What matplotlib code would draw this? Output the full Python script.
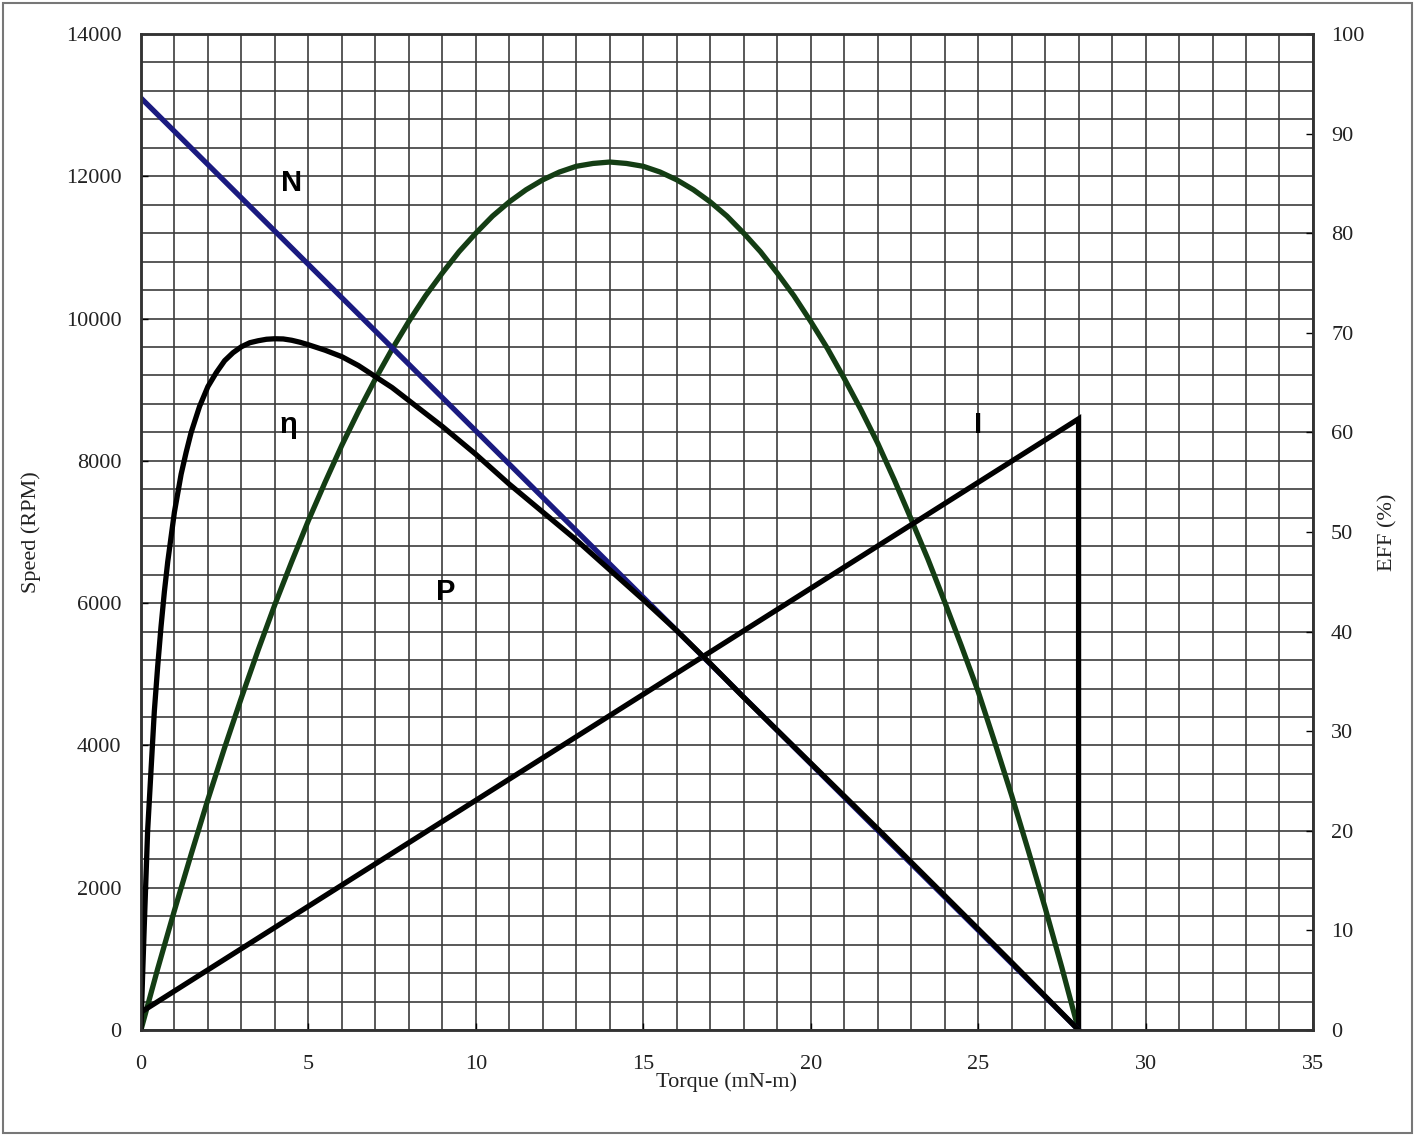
import matplotlib.pyplot as plt
from matplotlib.ticker import MultipleLocator
from matplotlib.patches import Rectangle

# speed line (RPM)
speed_torque = [0, 28]
speed_rpm = [13100, 0]

# output power curve, plotted on the speed scale (read every 0.5 mN-m)
power_torque = [i * 0.5 for i in range(57)]
power_vals = [0, 860, 1680, 2470, 3240, 3970, 4670, 5340, 5980, 6580, 7160, 7700,
              8220, 8700, 9150, 9570, 9960, 10320, 10640, 10940, 11200, 11440,
              11640, 11810, 11950, 12060, 12140, 12180, 12200, 12180, 12140, 12060,
              11950, 11810, 11640, 11440, 11200, 10940, 10640, 10320, 9960, 9580,
              9160, 8720, 8250, 7730, 7180, 6620, 6020, 5400, 4760, 4040,
              3300, 2520, 1720, 880, 0]

# current line, drops to zero at stall torque
current_torque = [0, 28, 28]
current_vals = [250, 8590, 0]

# efficiency (%)
eff_torque = [0, 0.05, 0.1, 0.15, 0.2, 0.3, 0.4, 0.5, 0.6, 0.7, 0.8, 0.9, 1.0, 1.2,
              1.35, 1.5, 1.75, 2, 2.25, 2.5, 2.75, 3, 3.25, 3.5, 3.75, 4, 4.25, 4.5,
              4.75, 5, 5.5, 6, 6.5, 7, 7.5, 8, 9, 10, 11, 12, 13, 14, 15, 16, 17, 18,
              20, 22, 24, 26, 28]
eff_pct = [0, 5.5, 10.5, 15.3, 20, 26, 32, 36.5, 40.5, 44, 47, 49.5, 52, 55.8,
           58, 60, 62.6, 64.6, 66.0, 67.2, 68.0, 68.6, 69.0, 69.2, 69.35, 69.4,
           69.38, 69.25, 69.05, 68.8, 68.25, 67.6, 66.7, 65.6, 64.5, 63.2, 60.6,
           57.8, 54.8, 52.0, 49.2, 46.2, 43.2, 40.1, 36.8, 33.4, 26.8, 20.2, 13.5,
           6.8, 0]

curve_labels = ['N', 'η', 'P', 'I']
label_torque = [4.5, 4.4, 9.1, 25.0]
label_rpm = [11900, 8500, 6150, 8500]

serif = 'Liberation Serif'
sans = 'Liberation Sans'

fig = plt.figure(figsize=(14.15, 11.36), dpi=100)
ax = fig.add_axes([0.0996, 0.0933, 0.8283, 0.8768])
ax2 = ax.twinx()

ax.set_xlim(0, 35)
ax.set_ylim(0, 14000)
ax2.set_ylim(0, 100)

ax.xaxis.set_major_locator(MultipleLocator(5))
ax.xaxis.set_minor_locator(MultipleLocator(1))
ax.yaxis.set_major_locator(MultipleLocator(2000))
ax.yaxis.set_minor_locator(MultipleLocator(400))
ax2.yaxis.set_major_locator(MultipleLocator(10))

ax.grid(which='both', color='#3c3c3c', linewidth=1.2)
ax.set_axisbelow(True)

ax.tick_params(which='major', direction='in', length=5, width=1, labelsize=16, pad=14)
ax.tick_params(axis='x', pad=18)
ax.tick_params(which='minor', length=0)
ax2.tick_params(direction='in', length=5, width=1, labelsize=16, pad=13)
for t in ax.get_xticklabels() + ax.get_yticklabels() + ax2.get_yticklabels():
    t.set_fontfamily(serif)
    t.set_color('#222222')

for a in (ax, ax2):
    for s in a.spines.values():
        s.set_linewidth(1.8)
        s.set_color('#333333')

lw = 3.8
ax.plot(power_torque, power_vals, color='#143d14', lw=lw, solid_capstyle='round')
ax.plot(current_torque, current_vals, color='black', lw=lw, solid_joinstyle='miter')
ax.plot(speed_torque, speed_rpm, color='#1a1a80', lw=lw)
ax2.plot(eff_torque, eff_pct, color='black', lw=lw)

for txt, x, y in zip(curve_labels, label_torque, label_rpm):
    ax.text(x, y, txt, fontsize=21, fontweight='bold', family=sans,
            ha='center', va='center')

ax.set_xlabel('Torque (mN-m)', fontsize=16, family=serif, color='#222222', labelpad=-1)
ax.set_ylabel('Speed (RPM)', fontsize=16, family=serif, color='#222222', labelpad=18)
ax2.set_ylabel('EFF (%)', fontsize=16, family=serif, color='#222222', labelpad=10)

fig.patches.append(Rectangle((0.002, 0.003), 0.996, 0.994, transform=fig.transFigure,
                             fill=False, edgecolor='#777777', linewidth=1.5))

fig.savefig('out.png', dpi=100)
